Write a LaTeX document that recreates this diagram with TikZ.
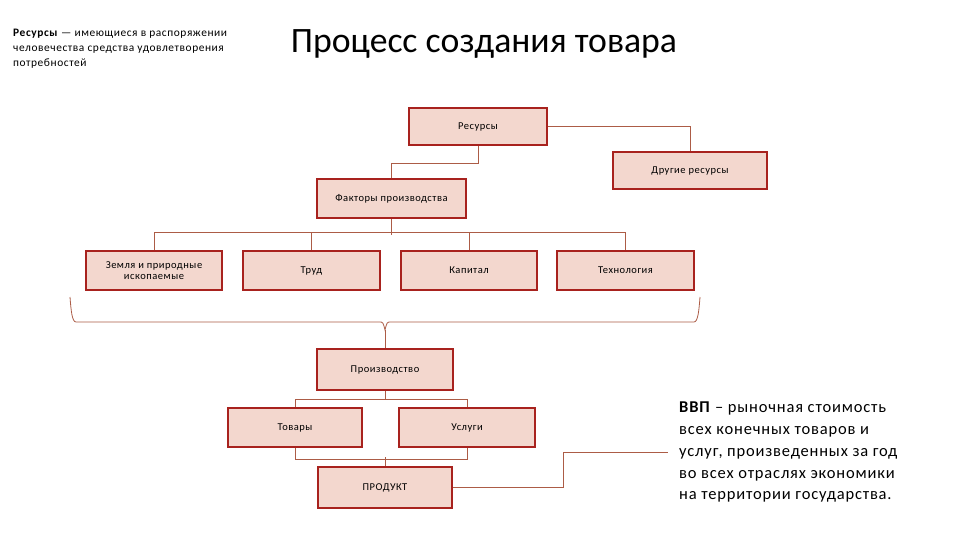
\documentclass[tikz,border=0pt]{standalone}
\usepackage{fontspec}
\setmainfont{Carlito}
\newfontfamily\wide[LetterSpace=5]{Carlito}
\begin{document}
\begin{tikzpicture}[x=1pt,y=-1pt,
  box/.style={draw=boxline, line width=2.2pt, fill=boxfill, inner sep=2pt, font=\wide\fontsize{10.5}{11.5}\selectfont, align=center},
  conn/.style={draw=connline, line width=0.9pt}]
\definecolor{boxfill}{RGB}{243,215,206}
\definecolor{boxline}{RGB}{168,34,30}
\definecolor{connline}{RGB}{172,92,70}
\useasboundingbox (0,0) rectangle (960,540);
\fill[white] (0,0) rectangle (960,540);
% texts
\node[anchor=north west, inner sep=0pt, align=left, font=\wide\fontsize{11.4}{15}\selectfont] (def) at (13,29)
  {\textbf{Ресурсы} — имеющиеся в распоряжении\\человечества средства удовлетворения\\потребностей};
\node[inner sep=0pt, font=\fontsize{35.7}{40}\selectfont] (title) at (484,44) {Процесс создания товара};
% boxes
\node[box, minimum width=138, minimum height=37] (res) at (478,126.5) {Ресурсы};
\node[box, minimum width=154, minimum height=37] (other) at (690,170.5) {Другие ресурсы};
\node[box, minimum width=149, minimum height=39] (fact) at (391.5,198.5) {Факторы производства};
\node[box, minimum width=136, minimum height=39] (zem) at (154,270.5) {Земля и природные\\ископаемые};
\node[box, minimum width=137, minimum height=39] (trud) at (311.5,270.5) {Труд};
\node[box, minimum width=136, minimum height=39] (kap) at (469,270.5) {Капитал};
\node[box, minimum width=137, minimum height=39] (tech) at (625.5,270.5) {Технология};
\node[box, minimum width=136, minimum height=41] (prod) at (385,369.5) {Производство};
\node[box, minimum width=134, minimum height=39] (tov) at (295,427.5) {Товары};
\node[box, minimum width=136, minimum height=39] (usl) at (467,427.5) {Услуги};
\node[box, minimum width=134, minimum height=41] (final) at (385,487.5) {ПРОДУКТ};
\node[anchor=north west, inner sep=0pt, align=left, font=\wide\fontsize{16.5}{21.7}\selectfont] (gdp) at (679,402)
  {\textbf{ВВП} – рыночная стоимость\\всех конечных товаров и\\услуг, произведенных за год\\во всех отраслях экономики\\на территории государства.};
% connectors
\draw[conn] (res.south) -- ++(0,17) -| (fact.north);
\draw[conn] (res.east) -| (other.north);
\draw[conn] (fact.south) -- ++(0,16);
\draw[conn] (zem.north) -- ++(0,-17) -| (tech.north);
\draw[conn] (trud.north) -- ++(0,-17);
\draw[conn] (kap.north) -- ++(0,-17);
% brace
\coordinate (bl) at (70,297);
\coordinate (br) at (700,297);
\coordinate (btip) at (385,330);
\draw[conn, line width=0.8pt] (bl) .. controls (71,310) and (72,322) .. (76,322) -- (379,322) .. controls (383,322) .. (btip) .. controls (387,322) .. (391,322) -- (694,322) .. controls (698,322) and (699,310) .. (br);
\draw[conn] (btip) -- (prod.north);
\draw[conn] (prod.south) -- ++(0,8) coordinate (pj);
\draw[conn] (tov.north) |- (pj) -| (usl.north);
\draw[conn] (tov.south) -- ++(0,11) -| (usl.south);
\draw[conn] (final.north) -- ++(0,-9);
\coordinate (gdpend) at (668,452);
\draw[conn] (final.east) -| (563,452) -- (gdpend);
\end{tikzpicture}
\end{document}
